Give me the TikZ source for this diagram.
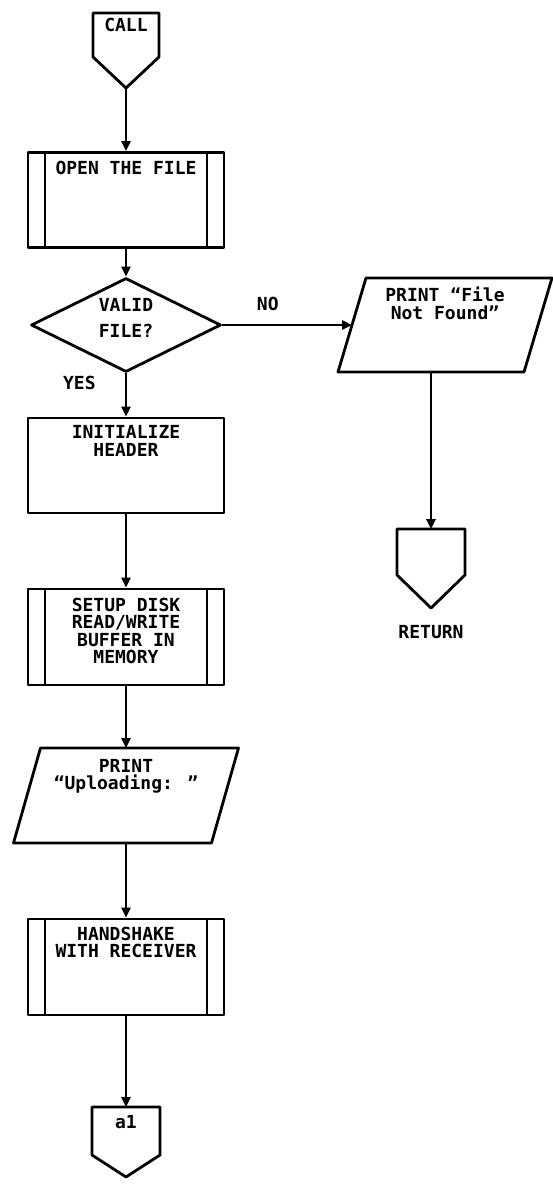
\documentclass[tikz,border=0pt]{standalone}
\usepackage{fontspec}
\newfontfamily\letterfont{DejaVu Sans Mono}
\usetikzlibrary{arrows.meta,positioning,shapes.geometric}

\tikzset{
  flow/.style={line width=2.8pt, line join=round},
  arr/.style={flow, -{Triangle[length=10pt,width=9pt]}},
  box/.style={flow, draw, rectangle, minimum width=196pt, minimum height=95pt, inner sep=0pt},
  subbox/.style={box, path picture={
      \draw[flow] ([xshift=17pt]path picture bounding box.north west) -- ([xshift=17pt]path picture bounding box.south west);
      \draw[flow] ([xshift=-17pt]path picture bounding box.north east) -- ([xshift=-17pt]path picture bounding box.south east);}},
  hole/.style={rectangle, inner sep=0pt, outer sep=0pt},
  txt/.style={inner sep=0pt, align=center, font=\letterfont\bfseries\fontsize{18}{17.5}\selectfont},
}

\begin{document}
\begin{tikzpicture}[x=1pt, y=-1pt]
    \useasboundingbox (0,0) rectangle (553,1187);
    \node[hole, minimum width=66pt, minimum height=44pt] (call) at (126,35) {};
    \draw[flow] (call.south west) -- (call.north west) -- (call.north east) -- (call.south east) -- ([yshift=-31pt]call.south) coordinate (calltip) -- cycle;
    \node[txt, below=5pt of call.north] (callt) {CALL};
    \node[subbox] (open) at (126,200) {};
    \node[txt, below=10pt of open.north] (opent) {OPEN THE FILE};
    \node[flow, draw, diamond, minimum width=190pt, minimum height=94pt, inner sep=0pt] (valid) at (126,325) {};
    \node[txt] (validt) at ([yshift=7pt]valid.center) {VALID\\[9pt]FILE?};
    \node[hole, minimum width=186pt, minimum height=94pt] (io1) at (445,325) {};
    \draw[flow] ([xshift=14pt]io1.north west) -- ([xshift=14pt]io1.north east) -- ([xshift=-14pt]io1.south east) -- ([xshift=-14pt]io1.south west) -- cycle;
    \node[txt, below=9pt of io1.north] (io1t) {PRINT “File\\Not Found”};
    \node[hole, minimum width=68pt, minimum height=46pt] (ret) at (431,552) {};
    \draw[flow] (ret.south west) -- (ret.north west) -- (ret.north east) -- (ret.south east) -- ([yshift=-33pt]ret.south) coordinate (rettip) -- cycle;
    \node[txt, below=17pt of rettip] (retlbl) {RETURN};
    \node[box] (init) at (126,465.5) {};
    \node[txt, below=9pt of init.north] (initt) {INITIALIZE\\HEADER};
    \node[subbox, minimum height=96pt] (setup) at (126,637) {};
    \node[txt, below=10pt of setup.north] (setupt) {SETUP DISK\\READ/WRITE\\BUFFER IN\\MEMORY};
    \node[hole, minimum width=198pt, minimum height=95pt] (io2) at (126,795.5) {};
    \draw[flow] ([xshift=13.5pt]io2.north west) -- ([xshift=13.5pt]io2.north east) -- ([xshift=-13.5pt]io2.south east) -- ([xshift=-13.5pt]io2.south west) -- cycle;
    \node[txt, below=11pt of io2.north] (io2t) {PRINT\\“Uploading: ”};
    \node[subbox, minimum height=96pt] (hand) at (126,967) {};
    \node[txt, below=9pt of hand.north] (handt) {HANDSHAKE\\WITH RECEIVER};
    \node[hole, minimum width=68pt, minimum height=48pt] (off) at (126,1131) {};
    \draw[flow] (off.south west) -- (off.north west) -- (off.north east) -- (off.south east) -- ([yshift=-22pt]off.south) coordinate (offtip) -- cycle;
    \node[txt, below=8pt of off.north] (offt) {a1};
    \draw[arr] (calltip) -- (open.north);
    \draw[arr] (open.south) -- (valid.north);
    \draw[arr] (valid.south) -- (init.north) node[txt, pos=0.22, left=29pt] (yeslbl) {YES};
    \draw[arr] (valid.east) -- (io1.west) node[txt, pos=0.35, above=13pt] (nolbl) {NO};
    \draw[arr] (io1.south -| ret.north) -- (ret.north);
    \draw[arr] (init.south) -- (setup.north);
    \draw[arr] (setup.south) -- (io2.north);
    \draw[arr] (io2.south) -- (hand.north);
    \draw[arr] (hand.south) -- (off.north);
\end{tikzpicture}
\end{document}
